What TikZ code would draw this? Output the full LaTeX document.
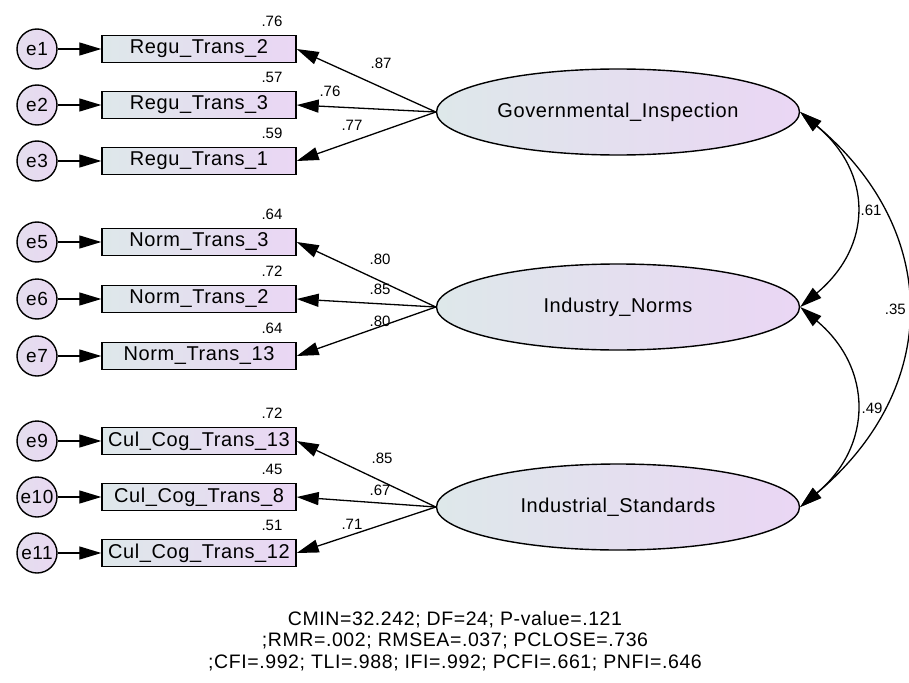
\documentclass[tikz,border=0pt]{standalone}
\usepackage{fontspec}
\setmainfont{Liberation Sans}
\newfontfamily\amosfont{Liberation Sans}[LetterSpace=3]
\usetikzlibrary{arrows.meta,shapes.geometric,positioning}
\definecolor{shadeleft}{RGB}{222,232,234}
\definecolor{shaderight}{RGB}{234,214,244}
\definecolor{errleft}{RGB}{228,222,238}
\definecolor{errfill}{RGB}{233,216,242}
\tikzset{
  errcircle/.style={circle,draw,line width=1.4pt,minimum size=40pt,inner sep=0pt,
    left color=errleft,right color=errfill,font=\fontsize{19}{19}\amosfont},
  obsbox/.style={draw,line width=1.4pt,minimum width=194pt,minimum height=27pt,inner sep=0pt,
    left color=shadeleft,right color=shaderight,font=\fontsize{20}{20}\amosfont},
  latent/.style={ellipse,draw,line width=1.4pt,minimum width=363pt,minimum height=86pt,inner sep=0pt,
    left color=shadeleft,right color=shaderight,font=\fontsize{20}{20}\amosfont},
  loading/.style={line width=1.3pt,-{Triangle[length=22pt,width=13pt]}},
  covar/.style={line width=1.3pt,{Triangle[length=22pt,width=13pt]}-{Triangle[length=22pt,width=13pt]}},
  est/.style={inner sep=0pt,font=\fontsize{15}{15}\selectfont}
}

\begin{document}
\begin{tikzpicture}[x=1pt,y=1pt]
  \useasboundingbox (0,0) rectangle (909,-682);
  \node[latent] (gi) at (618,-112) {Governmental\_Inspection};
  \node[latent] (in) at (618,-307) {Industry\_Norms};
  \node[latent] (is) at (618,-507) {Industrial\_Standards};
  \foreach \i/\yy/\txt/\rsq/\lat in {
      1/49/Regu\_Trans\_2/.76/gi, 2/105/Regu\_Trans\_3/.57/gi, 3/161/Regu\_Trans\_1/.59/gi,
      5/242/Norm\_Trans\_3/.64/in, 6/299/Norm\_Trans\_2/.72/in, 7/356/Norm\_Trans\_13/.64/in,
      9/441/Cul\_Cog\_Trans\_13/.72/is, 10/497/Cul\_Cog\_Trans\_8/.45/is, 11/553/Cul\_Cog\_Trans\_12/.51/is}{
    \node[errcircle] (e\i) at (37,-\yy) {e\i};
    \node[obsbox] (ob\i) at (199,-\yy) {\txt};
    \node[est] (r\i) at (272,-\yy+28) {\rsq};
    \draw[loading] (e\i) -- (ob\i);
    \draw[loading] (\lat.west) -- (ob\i.east);
  }
  \node[est] (l1) at (381,-63) {.87};
  \node[est] (l2) at (330,-91) {.76};
  \node[est] (l3) at (352,-125) {.77};
  \node[est] (l5) at (380,-259) {.80};
  \node[est] (l6) at (380,-289) {.85};
  \node[est] (l7) at (380,-321) {.80};
  \node[est] (l9) at (382,-458) {.85};
  \node[est] (l10) at (380,-490) {.67};
  \node[est] (l11) at (352,-524) {.71};
  \draw[covar] (gi.east) to[out=-40,in=40,looseness=1.25] (in.east);
  \draw[covar] (in.east) to[out=-40,in=40,looseness=1.22] (is.east);
  \draw[covar] (gi.east) to[out=-40,in=40,looseness=1.2] (is.east);
  \node[est] (c1) at (871,-210) {.61};
  \node[est] (c2) at (872,-408) {.49};
  \node[est,anchor=east] (c3) at (906,-309) {.35};
  \node[align=center,font=\fontsize{19.5}{21.5}\amosfont] (fit) at (455,-641)
    {CMIN=32.242; DF=24; P-value=.121\\;RMR=.002; RMSEA=.037; PCLOSE=.736\\;CFI=.992; TLI=.988; IFI=.992; PCFI=.661; PNFI=.646};
\end{tikzpicture}
\end{document}
